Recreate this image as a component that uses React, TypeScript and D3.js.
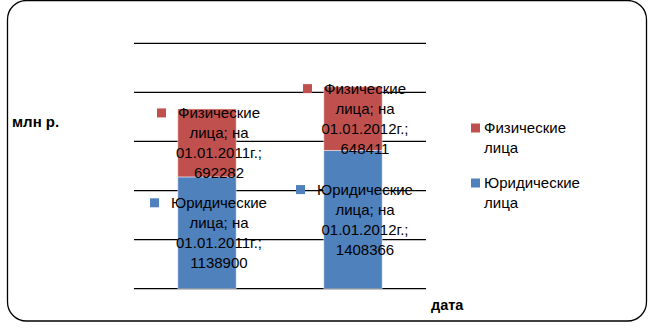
import React, { useEffect, useRef } from "react";
import * as d3 from "d3";

const dates = ["01.01.2011", "01.01.2012"];
const seriesNames = ["Юридические лица", "Физические лица"];
const legalValues = [1138900, 1408366];
const physicalValues = [692282, 648411];
const seriesColors = ["#4F81BD", "#C0504D"];
const yTicks = [0, 500000, 1000000, 1500000, 2000000, 2500000];
const yAxisTitle = "млн р.";
const xAxisTitle = "дата";

const W = 653;
const H = 335;
const FONT = "'Liberation Sans', Arial, sans-serif";

export default function App() {
  const ref = useRef<SVGSVGElement | null>(null);

  useEffect(() => {
    const svg = d3.select(ref.current);
    svg.selectAll("*").remove();

    // outer rounded border
    svg.append("rect")
      .attr("x", 7.5).attr("y", 0.5)
      .attr("width", 639).attr("height", 320.5)
      .attr("rx", 19).attr("ry", 19)
      .attr("fill", "#fff").attr("stroke", "#000").attr("stroke-width", 1.3);

    const x = d3.scaleBand<string>()
      .domain(dates)
      .range([134, 426])
      .paddingInner(0.6)
      .paddingOuter(0.3);
    const y = d3.scaleLinear().domain([0, 2500000]).range([288.7, 43.3]);

    // gridlines
    svg.append("g").selectAll("line").data(yTicks).join("line")
      .attr("x1", 134).attr("x2", 426)
      .attr("y1", (d) => y(d)).attr("y2", (d) => y(d))
      .attr("stroke", "#000").attr("stroke-width", 1.2);

    const stackData = dates.map((d, i) => ({ date: d, legal: legalValues[i], physical: physicalValues[i] }));
    const stack = d3.stack<any>().keys(["legal", "physical"])(stackData);

    stack.forEach((layer, si) => {
      svg.append("g").selectAll("rect").data(layer).join("rect")
        .attr("x", (d: any) => x(d.data.date)!)
        .attr("width", x.bandwidth())
        .attr("y", (d: any) => y(d[1]))
        .attr("height", (d: any) => y(d[0]) - y(d[1]))
        .attr("fill", seriesColors[si])
        .attr("stroke", "rgba(255,255,255,0.45)")
        .attr("stroke-width", 1);
    });

    // data labels
    const lh = 20;
    stack.forEach((layer, si) => {
      layer.forEach((d: any) => {
        const cx = x(d.data.date)! + x.bandwidth() / 2 + 12;
        const cy = (y(d[0]) + y(d[1])) / 2;
        const words = seriesNames[si].split(" ");
        const lines = [words[0], words[1] + "; на", d.data.date + "г.;", String(si === 0 ? d.data.legal : d.data.physical)];
        const top = cy - ((lines.length - 1) * lh) / 2;
        const g = svg.append("g");
        let firstW = 0;
        lines.forEach((ln, li) => {
          const t = g.append("text")
            .attr("x", cx).attr("y", top + li * lh)
            .attr("dy", "0.35em")
            .attr("text-anchor", "middle")
            .attr("font-family", FONT).attr("font-size", 15)
            .attr("fill", "#000")
            .text(ln);
          if (li === 0) firstW = (t.node() as SVGTextElement).getComputedTextLength();
        });
        g.append("rect")
          .attr("x", cx - firstW / 2 - 21).attr("y", top - 4.5)
          .attr("width", 9).attr("height", 9)
          .attr("fill", seriesColors[si]);
      });
    });

    // legend
    const legendOrder = [1, 0];
    legendOrder.forEach((si, k) => {
      const ly = 128 + k * 55;
      svg.append("rect").attr("x", 471).attr("y", ly - 4.5).attr("width", 9).attr("height", 9)
        .attr("fill", seriesColors[si]);
      const words = seriesNames[si].split(" ");
      words.forEach((w, wi) => {
        svg.append("text").attr("x", 484).attr("y", ly + wi * 20).attr("dy", "0.35em")
          .attr("font-family", FONT).attr("font-size", 15).attr("fill", "#000").text(w);
      });
    });

    // axis titles
    svg.append("text").attr("x", 12).attr("y", 122).attr("dy", "0.35em")
      .attr("font-family", FONT).attr("font-size", 15).attr("font-weight", "bold").attr("fill", "#000")
      .text(yAxisTitle);
    svg.append("text").attr("x", 431).attr("y", 305).attr("dy", "0.35em")
      .attr("font-family", FONT).attr("font-size", 14.5).attr("font-weight", "bold").attr("fill", "#000")
      .text(xAxisTitle);
  }, []);

  return (
    <svg ref={ref} width={W} height={H} style={{ position: "absolute", left: 0, top: 0, background: "#fff" }} />
  );
}
